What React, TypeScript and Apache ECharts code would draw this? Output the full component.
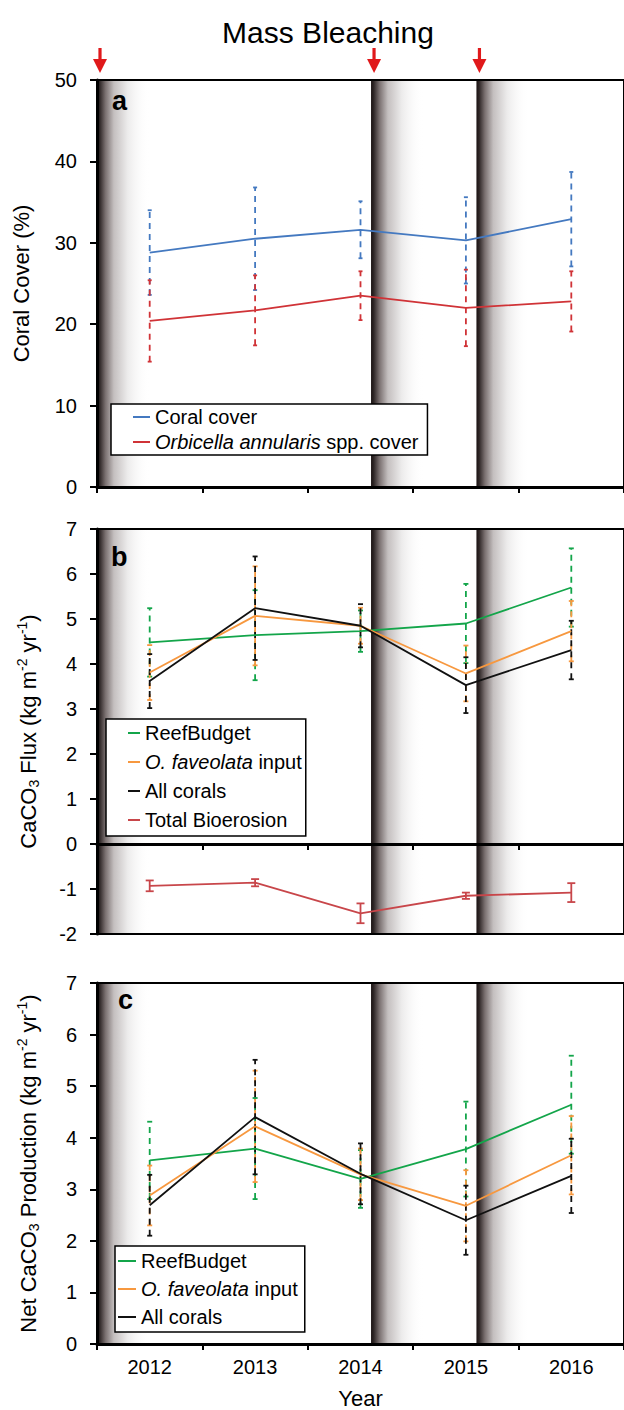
import React, { useEffect, useRef } from 'react';
import * as echarts from 'echarts';

const FONT = '"Liberation Sans", Arial, Helvetica, sans-serif';

// ---------- data ----------
const years = ['2012', '2013', '2014', '2015', '2016'];
const yearValues = [2012, 2013, 2014, 2015, 2016];
const bleachingStarts = [2011.5, 2014.1, 2015.1];
const bleachingWidth = 0.5;

// Panel a: coral cover (%)
const coralCover = [28.8, 30.5, 31.6, 30.3, 32.9];
const coralCoverErr = [5.2, 6.3, 3.5, 5.3, 5.8];
const orbicellaCover = [20.4, 21.7, 23.5, 22.0, 22.8];
const orbicellaCoverErr = [5.0, 4.3, 3.0, 4.7, 3.7];

// Panel b: CaCO3 flux
const fluxReefBudget = [4.48, 4.64, 4.73, 4.9, 5.7];
const fluxReefBudgetErr = [0.76, 1.0, 0.46, 0.88, 0.87];
const fluxFaveolata = [3.81, 5.07, 4.85, 3.79, 4.73];
const fluxFaveolataErr = [0.61, 1.1, 0.4, 0.62, 0.67];
const fluxAllCorals = [3.62, 5.24, 4.85, 3.53, 4.31];
const fluxAllCoralsErr = [0.6, 1.15, 0.48, 0.62, 0.65];
const bioerosion = [-0.93, -0.86, -1.54, -1.15, -1.08];
const bioerosionErr = [0.12, 0.08, 0.22, 0.07, 0.21];

// Panel c: net CaCO3 production
const netReefBudget = [3.56, 3.79, 3.2, 3.78, 4.64];
const netReefBudgetErr = [0.75, 0.98, 0.56, 0.92, 0.95];
const netFaveolata = [2.88, 4.22, 3.29, 2.68, 3.66];
const netFaveolataErr = [0.58, 1.08, 0.5, 0.69, 0.76];
const netAllCorals = [2.69, 4.4, 3.3, 2.4, 3.26];
const netAllCoralsErr = [0.59, 1.11, 0.59, 0.67, 0.72];

// ---------- colours ----------
const BLUE = '#4479c0';
const RED = '#d03337';
const GREEN = '#13a54a';
const ORANGE = '#f7983f';
const BLACK = '#111111';
const BIORED = '#c8464a';

const pairs = (vals: number[]) => yearValues.map((y, i) => [y, vals[i]]);
const errRows = (vals: number[], errs: number[]) =>
  yearValues.map((y, i) => [y, vals[i] - errs[i], vals[i] + errs[i]]);

const lineSeries = (name: string, vals: number[], color: string, xIdx: number, yIdx: number) => ({
  type: 'line',
  name,
  data: pairs(vals),
  xAxisIndex: xIdx,
  yAxisIndex: yIdx,
  color,
  symbol: 'none',
  showSymbol: false,
  lineStyle: { width: 1.8, color },
  z: 5,
  silent: true,
});

const errSeries = (
  vals: number[],
  errs: number[],
  color: string,
  xIdx: number,
  yIdx: number,
  dashed: boolean,
  cap: number
) => ({
  type: 'custom',
  data: errRows(vals, errs),
  xAxisIndex: xIdx,
  yAxisIndex: yIdx,
  encode: { x: 0, y: [1, 2] },
  silent: true,
  z: 4,
  renderItem: (params: any, api: any) => {
    const lo = api.coord([api.value(0), api.value(1)]);
    const hi = api.coord([api.value(0), api.value(2)]);
    return {
      type: 'group',
      children: [
        {
          type: 'line',
          shape: { x1: lo[0], y1: lo[1], x2: hi[0], y2: hi[1] },
          style: { stroke: color, lineWidth: 1.8, lineDash: dashed ? [6, 5] : null },
        },
        {
          type: 'line',
          shape: { x1: lo[0] - cap, y1: lo[1], x2: lo[0] + cap, y2: lo[1] },
          style: { stroke: color, lineWidth: 1.8 },
        },
        {
          type: 'line',
          shape: { x1: hi[0] - cap, y1: hi[1], x2: hi[0] + cap, y2: hi[1] },
          style: { stroke: color, lineWidth: 1.8 },
        },
      ],
    };
  },
});

const bandGradient = () =>
  new echarts.graphic.LinearGradient(0, 0, 1, 0, [
    { offset: 0, color: '#1a1212' },
    { offset: 0.05, color: '#2e2626' },
    { offset: 0.16, color: '#7a7070' },
    { offset: 0.32, color: '#c4bfbf' },
    { offset: 0.58, color: '#ecebeb' },
    { offset: 1, color: 'rgba(255,255,255,0)' },
  ]);

const bandSeries = (xIdx: number, yIdx: number, withArrows: boolean) => ({
  type: 'custom',
  data: bleachingStarts.map((v) => [v]),
  xAxisIndex: xIdx,
  yAxisIndex: yIdx,
  encode: { x: 0 },
  clip: false,
  silent: true,
  z: -1,
  renderItem: (params: any, api: any) => {
    const cs = params.coordSys;
    const start = api.value(0);
    const x0 = api.coord([start, 0])[0];
    const x1 = api.coord([start + bleachingWidth, 0])[0];
    const children: any[] = [
      {
        type: 'rect',
        shape: { x: x0, y: cs.y, width: x1 - x0, height: cs.height },
        style: { fill: bandGradient() },
      },
    ];
    if (withArrows) {
      const ax = x0 + 3;
      const top = cs.y;
      children.push({
        type: 'rect',
        shape: { x: ax - 1.6, y: top - 32, width: 3.2, height: 13 },
        style: { fill: '#e0191b' },
      });
      children.push({
        type: 'polygon',
        shape: { points: [[ax - 7, top - 21], [ax + 7, top - 21], [ax, top - 7]] },
        style: { fill: '#e0191b' },
      });
    }
    return { type: 'group', children };
  },
});

const axisText = { fontSize: 20, color: '#000', fontFamily: FONT };

const catAxis = (gridIndex: number, showLabels: boolean) => ({
  type: 'category',
  gridIndex,
  data: years,
  boundaryGap: true,
  axisLine: { show: true, onZero: true, lineStyle: { color: '#000', width: 3 } },
  axisTick: { show: true, length: 6, alignWithLabel: false, lineStyle: { color: '#000', width: 2 } },
  axisLabel: { show: showLabels, margin: 13, ...axisText },
  splitLine: { show: false },
  ...(showLabels
    ? {
        name: 'Year',
        nameLocation: 'middle',
        nameGap: 43,
        nameTextStyle: { fontSize: 22, color: '#000', fontFamily: FONT },
      }
    : {}),
});

const valAxis = (gridIndex: number) => ({
  type: 'value',
  gridIndex,
  min: 2011.5,
  max: 2016.5,
  show: false,
});

const nameRich = {
  sub: { fontSize: 14, verticalAlign: 'bottom', fontFamily: FONT, color: '#000' },
  sup: { fontSize: 14, verticalAlign: 'top', fontFamily: FONT, color: '#000' },
};

const yAxisDef = (
  gridIndex: number,
  min: number,
  max: number,
  interval: number,
  name: string,
  nameGap: number
) => ({
  type: 'value',
  gridIndex,
  min,
  max,
  interval,
  name,
  nameLocation: 'middle',
  nameRotate: 90,
  nameGap,
  nameTextStyle: { fontSize: 22, lineHeight: 26, color: '#000', fontFamily: FONT, rich: nameRich },
  axisLine: { show: true, onZero: false, lineStyle: { color: '#000', width: 3 } },
  axisTick: { show: true, length: 7, lineStyle: { color: '#000', width: 2 } },
  axisLabel: { margin: 20, ...axisText },
  splitLine: { show: false },
});

const legendRich = {
  i: { fontStyle: 'italic', fontSize: 20, lineHeight: 20, fontFamily: FONT, color: '#000' },
};
const legendFormatter = (name: string) => {
  if (name === 'Orbicella annularis spp. cover') return '{i|Orbicella annularis} spp. cover';
  if (name === 'O. faveolata input') return '{i|O. faveolata} input';
  return name;
};
const legendDef = (
  left: number,
  top: number,
  data: string[],
  itemWidth: number,
  itemGap: number,
  padding: number[]
) => ({
  orient: 'vertical',
  left,
  top,
  data,
  icon: 'rect',
  itemWidth,
  itemHeight: 2,
  itemGap,
  padding,
  borderColor: '#000',
  borderWidth: 1.5,
  borderRadius: 0,
  backgroundColor: '#fff',
  selectedMode: false,
  formatter: legendFormatter,
  textStyle: { fontSize: 20, lineHeight: 20, color: '#000', fontFamily: FONT, rich: legendRich },
  z: 10,
});

const gridDef = (top: number, height: number) => ({
  left: 97,
  top,
  width: 531,
  height,
  show: true,
  borderColor: '#000',
  borderWidth: 2,
  backgroundColor: 'transparent',
});

const panelLabel = (text: string, x: number, y: number) => ({
  type: 'text',
  left: x,
  top: y,
  style: { text, fontSize: 27, fontWeight: 'bold', fontFamily: FONT, fill: '#000' },
  z: 20,
});

export default function App() {
  const ref = useRef<HTMLDivElement>(null);

  useEffect(() => {
    const el = ref.current;
    if (!el) return;
    const chart = echarts.init(el, null, { renderer: 'svg' });
    const option: any = {
      animation: false,
      backgroundColor: '#fff',
      title: {
        text: 'Mass Bleaching',
        left: 323,
        top: 12,
        textAlign: 'center',
        textStyle: { fontSize: 30, fontWeight: 'normal', color: '#000', fontFamily: FONT },
      },
      grid: [gridDef(80, 407), gridDef(529, 405), gridDef(983, 362)],
      xAxis: [catAxis(0, false), valAxis(0), catAxis(1, false), valAxis(1), catAxis(2, true), valAxis(2)],
      yAxis: [
        yAxisDef(0, 0, 50, 10, 'Coral Cover (%)', 63),
        yAxisDef(1, -2, 7, 1, 'CaCO{sub|3} Flux (kg m{sup|-2} yr{sup|-1})', 56),
        yAxisDef(2, 0, 7, 1, 'Net CaCO{sub|3} Production (kg m{sup|-2} yr{sup|-1})', 56),
      ],
      legend: [
        legendDef(111, 404, ['Coral cover', 'Orbicella annularis spp. cover'], 17, 5, [3, 9, 3, 22]),
        legendDef(
          106,
          719,
          ['ReefBudget', 'O. faveolata input', 'All corals', 'Total Bioerosion'],
          12,
          9,
          [4, 4, 6, 22]
        ),
        legendDef(115, 1246, ['ReefBudget', 'O. faveolata input', 'All corals'], 18, 8, [5, 7, 5, 3]),
      ],
      graphic: [panelLabel('a', 112, 87), panelLabel('b', 111, 543), panelLabel('c', 118, 986)],
      series: [
        bandSeries(1, 0, true),
        bandSeries(3, 1, false),
        bandSeries(5, 2, false),
        // panel a
        errSeries(coralCover, coralCoverErr, BLUE, 1, 0, true, 2),
        errSeries(orbicellaCover, orbicellaCoverErr, RED, 1, 0, true, 2),
        lineSeries('Coral cover', coralCover, BLUE, 1, 0),
        lineSeries('Orbicella annularis spp. cover', orbicellaCover, RED, 1, 0),
        // panel b
        errSeries(fluxReefBudget, fluxReefBudgetErr, GREEN, 3, 1, true, 2.5),
        errSeries(fluxFaveolata, fluxFaveolataErr, ORANGE, 3, 1, true, 2.5),
        errSeries(fluxAllCorals, fluxAllCoralsErr, BLACK, 3, 1, true, 2.5),
        errSeries(bioerosion, bioerosionErr, BIORED, 3, 1, false, 4),
        lineSeries('ReefBudget', fluxReefBudget, GREEN, 3, 1),
        lineSeries('O. faveolata input', fluxFaveolata, ORANGE, 3, 1),
        lineSeries('All corals', fluxAllCorals, BLACK, 3, 1),
        lineSeries('Total Bioerosion', bioerosion, BIORED, 3, 1),
        // panel c
        errSeries(netReefBudget, netReefBudgetErr, GREEN, 5, 2, true, 2.5),
        errSeries(netFaveolata, netFaveolataErr, ORANGE, 5, 2, true, 2.5),
        errSeries(netAllCorals, netAllCoralsErr, BLACK, 5, 2, true, 2.5),
        lineSeries('ReefBudget', netReefBudget, GREEN, 5, 2),
        lineSeries('O. faveolata input', netFaveolata, ORANGE, 5, 2),
        lineSeries('All corals', netAllCorals, BLACK, 5, 2),
      ],
    };
    chart.setOption(option);
    return () => chart.dispose();
  }, []);

  return (
    <div
      ref={ref}
      style={{ position: 'absolute', left: 0, top: 0, width: 624, height: 1410, background: '#fff' }}
    />
  );
}
